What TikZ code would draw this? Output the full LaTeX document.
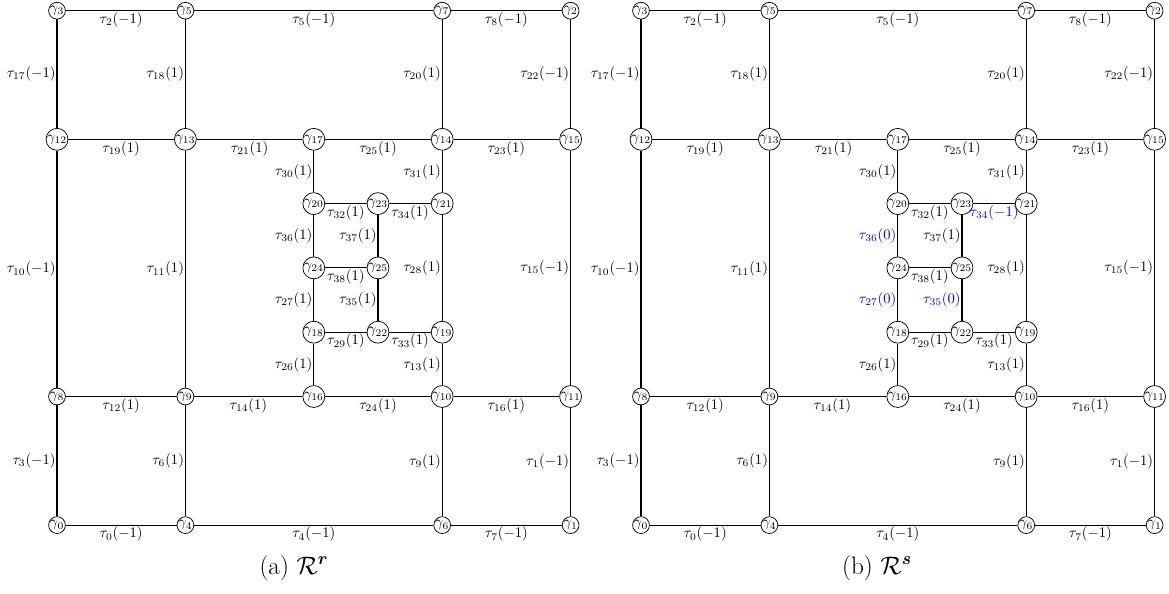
\documentclass[tikz,border=0pt]{standalone}
\usepackage{amsmath,amssymb}
\tikzset{
  gnode/.style={circle,draw,line width=0.5pt,inner sep=0pt,fill=white},
  edge/.style={line width=0.8pt},
  hl/.style={below=0pt,inner sep=0.8pt},
  vl/.style={left=0pt,inner sep=0.6pt},
  captext/.style={anchor=base,inner sep=0pt,font=\fontsize{17.28}{21}\selectfont},
}
% #1 prefix, #2 x offset, #3 colour of changed labels, #4 value of tau36,tau27,tau35, #5 value of tau34
\newcommand\drawpanel[5]{%
  \begin{scope}[shift={(#2,0)}]
    \foreach \n/\k/\l in {3/0/0,5/2/0,7/6/0,2/8/0,12/0/2,13/2/2,17/4/2,14/6/2,15/8/2,
                          20/4/3,23/5/3,21/6/3,24/4/4,25/5/4,18/4/5,22/5/5,19/6/5,
                          8/0/6,9/2/6,16/4/6,10/6/6,11/8/6,0/0/8,4/2/8,6/6/8,1/8/8}
      \node[gnode] (#1g\n) at ({64.2*\k},{64.3*\l}) {$\gamma_{\n}$};
  \end{scope}
  % horizontal edges
  \foreach \a/\b/\i/\v in {3/5/2/-1,5/7/5/-1,7/2/8/-1,
                           12/13/19/1,13/17/21/1,17/14/25/1,14/15/23/1,
                           20/23/32/1,24/25/38/1,18/22/29/1,22/19/33/1,
                           8/9/12/1,9/16/14/1,16/10/24/1,10/11/16/1,
                           0/4/0/-1,4/6/4/-1,6/1/7/-1}
    \draw[edge] (#1g\a) -- node[hl] {$\tau_{\i}(\v)$} (#1g\b);
  \draw[edge] (#1g23) -- node[hl,text=#3] {$\tau_{34}(#5)$} (#1g21);
  % vertical edges
  \foreach \a/\b/\i/\v in {3/12/17/-1,5/13/18/1,7/14/20/1,2/15/22/-1,
                           17/20/30/1,14/21/31/1,23/25/37/1,21/19/28/1,
                           18/16/26/1,19/10/13/1,
                           12/8/10/-1,13/9/11/1,15/11/15/-1,
                           8/0/3/-1,9/4/6/1,10/6/9/1,11/1/1/-1}
    \draw[edge] (#1g\a) -- node[vl] {$\tau_{\i}(\v)$} (#1g\b);
  \draw[edge] (#1g20) -- node[vl,text=#3] {$\tau_{36}(#4)$} (#1g24);
  \draw[edge] (#1g24) -- node[vl,text=#3] {$\tau_{27}(#4)$} (#1g18);
  \draw[edge] (#1g25) -- node[vl,text=#3] {$\tau_{35}(#4)$} (#1g22);
}
\begin{document}
\begin{tikzpicture}[x=0.685pt,y=-0.685pt]
  \useasboundingbox (-57,-10.7) rectangle (1112,582.3);
  \drawpanel{a}{0}{black}{1}{1}
  \drawpanel{b}{584}{blue}{0}{-1}
  \node[captext] (capa) at (237,563.3) {(a) $\mathcal{R}^{\boldsymbol{r}}$};
  \node[captext] (capb) at (820,563.3) {(b) $\mathcal{R}^{\boldsymbol{s}}$};
\end{tikzpicture}
\end{document}
